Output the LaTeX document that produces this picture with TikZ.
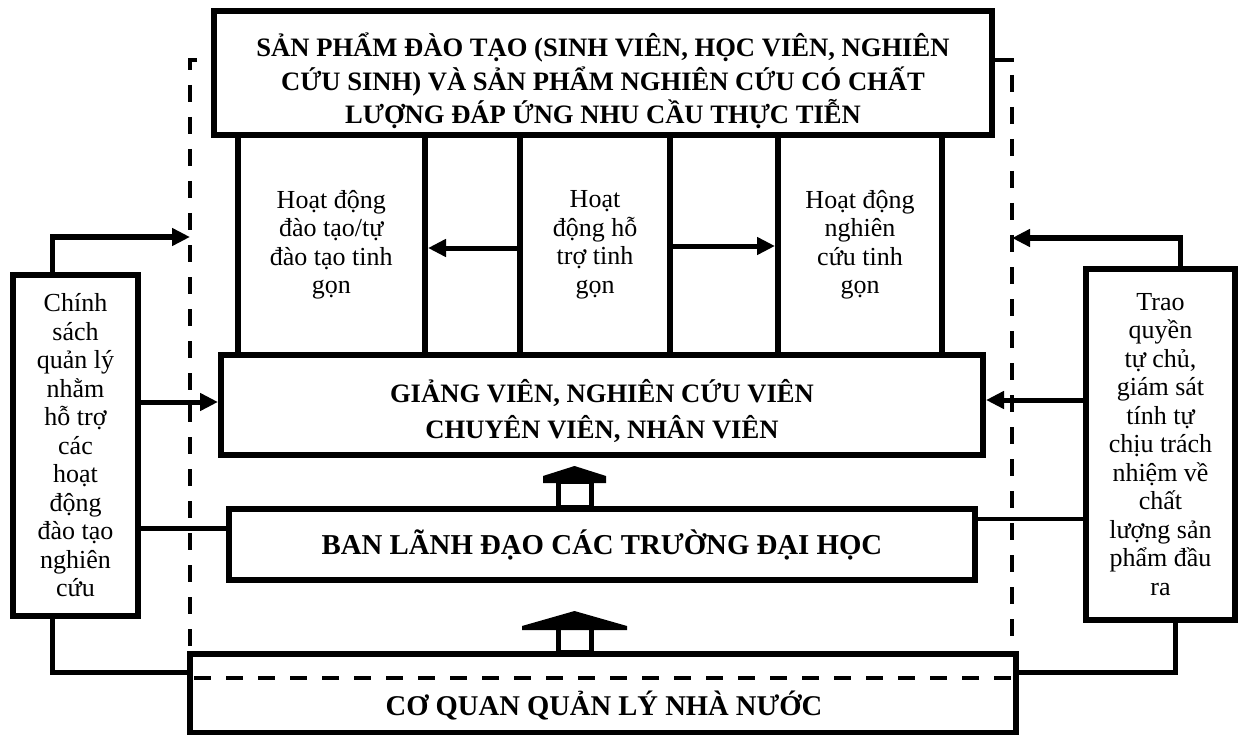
\documentclass[tikz,border=0pt]{standalone}
\usepackage{fontspec}
\setmainfont{Liberation Serif}
\usetikzlibrary{arrows.meta}
\begin{document}
\begin{tikzpicture}[x=1pt,y=-1pt,
  box/.style={draw, line width=6pt, fill=white, inner sep=0pt, align=center, font=\fontsize{26}{28.5}\selectfont},
  btext/.style={align=center, inner sep=0pt, font=\bfseries\fontsize{26.6}{33.5}\selectfont},
  conn/.style={line width=5pt},
  arr/.style={-{Triangle[length=18pt,width=17pt]}},
  dashline/.style={line width=4pt, dash pattern=on 17pt off 15pt},
  shaft/.style={draw, fill=white, line width=5pt},
  head/.style={fill=black}]
\useasboundingbox (0,0) rectangle (1238,735);

% dashed frame
\draw[dashline] (197,60) -- (190,60) -- (190,654);
\draw[dashline] (1012,75) -- (1012,654);

% boxes
\node[box, minimum width=778pt, minimum height=124pt] (top) at (603,73) {};
\node[btext] (toptext) at (603,81) {SẢN PHẨM ĐÀO TẠO (SINH VIÊN, HỌC VIÊN, NGHIÊN\\CỨU SINH) VÀ SẢN PHẨM NGHIÊN CỨU CÓ CHẤT\\LƯỢNG ĐÁP ỨNG NHU CẦU THỰC TIỄN};
\node[box, minimum width=187.5pt, minimum height=220pt] (act1) at (331.25,245) {Hoạt động\\đào tạo/tự\\đào tạo tinh\\gọn};
\node[box, minimum width=150pt, minimum height=220pt] (act2) at (595,245) {Hoạt\\động hỗ\\trợ tinh\\gọn};
\node[box, minimum width=164pt, minimum height=220pt] (act3) at (860,245) {Hoạt động\\nghiên\\cứu tinh\\gọn};
\node[box, minimum width=762pt, minimum height=100pt] (gv) at (602,405) {};
\node[btext, font=\bfseries\fontsize{26.6}{36}\selectfont] (gvtext) at (602,411) {GIẢNG VIÊN, NGHIÊN CỨU VIÊN\\CHUYÊN VIÊN, NHÂN VIÊN};
\node[box, font=\bfseries\fontsize{28.8}{32}\selectfont, minimum width=746pt, minimum height=71pt] (ban) at (602,544.5) {BAN LÃNH ĐẠO CÁC TRƯỜNG ĐẠI HỌC};
\node[box, minimum width=826pt, minimum height=79pt] (bot) at (603,693.5) {};
\node[btext, font=\bfseries\fontsize{28.6}{32}\selectfont] (bottext) at (604,706) {CƠ QUAN QUẢN LÝ NHÀ NƯỚC};
\draw[dashline] (194,678) -- (1013,678);
\node[box, minimum width=125pt, minimum height=341pt] (chinh) at (75.5,445.5) {Chính\\sách\\quản lý\\nhằm\\hỗ trợ\\các\\hoạt\\động\\đào tạo\\nghiên\\cứu};
\node[box, minimum width=149pt, minimum height=351pt] (trao) at (1160.5,444.5) {Trao\\quyền\\tự chủ,\\giám sát\\tính tự\\chịu trách\\nhiệm về\\chất\\lượng sản\\phẩm đầu\\ra};

% helper coordinates
\coordinate (lup) at (52,237);
\coordinate (ltip) at (190,237);
\coordinate (rup) at (1180,238);
\coordinate (rtip) at (1012,238);
\coordinate (lmid) at (0,402);
\coordinate (rmid) at (0,400);
\coordinate (lban) at (0,528);
\coordinate (rban) at (0,519);
\coordinate (lfb) at (52,672);
\coordinate (rfb) at (1175,672);
\coordinate (a1) at (0,248);
\coordinate (a2) at (0,246);
\coordinate (stub) at (1014,60);

% connectors
\draw[line width=4pt] (top.east |- stub) -- (stub);
\draw[conn, arr] (lup |- chinh.north) -- (lup) -- (ltip);
\draw[conn, arr] (chinh.east |- lmid) -- (gv.west |- lmid);
\draw[conn] (chinh.east |- lban) -- (ban.west |- lban);
\draw[conn] (lfb |- chinh.south) -- (lfb) -- (bot.west |- lfb);
\draw[conn, arr] (rup |- trao.north) -- (rup) -- (rtip);
\draw[conn, arr] (trao.west |- rmid) -- (gv.east |- rmid);
\draw[line width=4pt] (trao.west |- rban) -- (ban.east |- rban);
\draw[conn] (rfb |- trao.south) -- (rfb) -- (bot.east |- rfb);
\draw[conn, arr] (act2.west |- a1) -- (act1.east |- a1);
\draw[conn, arr] (act2.east |- a2) -- (act3.west |- a2);

% block arrows
\draw[shaft] (558,481) rectangle (591,507);
\fill[head] (543,483) -- (543,476) -- (574.5,466) -- (606,476) -- (606,483) -- cycle;
\draw[shaft] (558,627) rectangle (591,652);
\fill[head] (522,630) -- (522,626) -- (574.5,611) -- (627,626) -- (627,630) -- cycle;
\end{tikzpicture}
\end{document}
